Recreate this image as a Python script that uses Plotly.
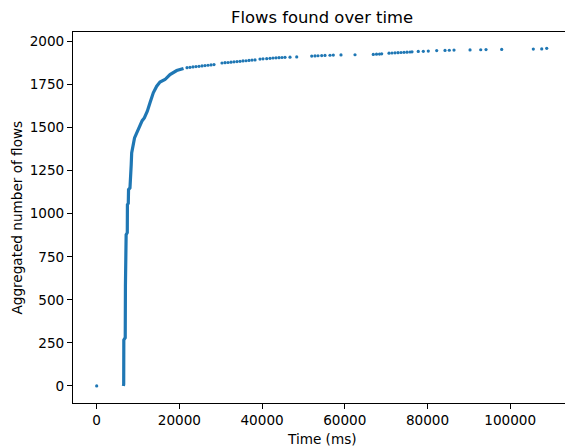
import plotly.graph_objects as go

# First flow recorded at the start of the capture
start_time_ms = [0]
start_count = [0]

# Burst of flows: cumulative count along the steep part of the curve
burst_time_ms = [6450, 6530, 6560, 6900, 6950, 7120, 7400, 7430, 7640, 7700,
                 8050, 8100, 8300, 8350, 8460, 8650, 8860, 9150, 9500, 10000,
                 10470, 11000, 11520, 12240, 12890, 13690, 14510, 15310, 16520,
                 17730, 19350, 21000]
burst_count = [0, 10, 267, 280, 580, 878, 890, 1052, 1060, 1140,
               1150, 1198, 1210, 1285, 1353, 1385, 1411, 1440, 1459, 1490,
               1517, 1540, 1556, 1595, 1644, 1702, 1740, 1764, 1779,
               1808, 1831, 1843]

# Later, sparser flows
tail_time_ms = [21840, 22560, 23290, 24010, 24740, 25470, 26190, 26920, 27650, 28370,
                30300, 31030, 31750, 32480, 33210, 33930, 34660, 35380, 36110, 36840,
                37560, 38290, 39490, 40220, 41110, 41910, 42640, 43360, 44090, 44810,
                45540, 46750, 48370, 52000, 52790, 53520, 54410, 55210, 56420, 57220,
                59080, 62470, 66890, 67670, 68390, 68920, 70690, 71410, 72140, 72870,
                73590, 74320, 75040, 75770, 76250, 77770, 78990, 80190, 82220, 84230,
                85270, 86410, 90280, 92870, 94150, 97940, 105590, 107620, 108830]
tail_count = [1848, 1850, 1852, 1854, 1856, 1858, 1860, 1862, 1864, 1866,
              1875, 1877, 1878, 1880, 1882, 1883, 1885, 1887, 1888, 1890,
              1892, 1893, 1898, 1899, 1900, 1902, 1904, 1905, 1906, 1907,
              1908, 1909, 1910, 1915, 1916, 1917, 1918, 1919, 1920, 1921,
              1922, 1923, 1925, 1926, 1927, 1928, 1932, 1933, 1934, 1935,
              1936, 1937, 1938, 1939, 1940, 1942, 1943, 1944, 1947, 1948,
              1949, 1950, 1951, 1952, 1953, 1954, 1956, 1957, 1960]

x_ticks = [0, 20000, 40000, 60000, 80000, 100000]
y_ticks = [0, 250, 500, 750, 1000, 1250, 1500, 1750, 2000]

BLUE = "#1f77b4"
FONT = "DejaVu Sans"

fig = go.Figure()
fig.add_trace(go.Scatter(x=burst_time_ms, y=burst_count, mode="lines",
                         line=dict(color=BLUE, width=3.2), hoverinfo="skip"))
fig.add_trace(go.Scatter(x=start_time_ms + tail_time_ms, y=start_count + tail_count,
                         mode="markers",
                         marker=dict(color=BLUE, size=3.2, line=dict(width=0)),
                         hoverinfo="skip"))

axis_common = dict(showgrid=False, zeroline=False, showline=True, linecolor="black",
                   linewidth=1, ticks="outside", ticklen=5, tickwidth=1,
                   tickcolor="black", tickformat="d",
                   tickfont=dict(family=FONT, size=13.6, color="black"))

fig.update_xaxes(range=[-5730, 113250], tickvals=x_ticks, mirror=True, **axis_common)
fig.update_yaxes(range=[-99, 2055], tickvals=y_ticks, mirror=False, **axis_common)

fig.update_layout(
    width=565, height=448,
    margin=dict(l=73, r=0, t=32, b=45),
    plot_bgcolor="white", paper_bgcolor="white",
    showlegend=False,
    annotations=[
        dict(text="Flows found over time", xref="paper", yref="paper", x=0.506, y=1,
             yshift=15, xanchor="center", yanchor="middle", showarrow=False,
             font=dict(family=FONT, size=16.4, color="black")),
        dict(text="Time (ms)", xref="paper", yref="paper", x=0.506, y=0,
             yshift=-36, xanchor="center", yanchor="middle", showarrow=False,
             font=dict(family=FONT, size=13.6, color="black")),
        dict(text="Aggregated number of flows", xref="paper", yref="paper", x=0, y=0.5,
             xshift=-57, xanchor="center", yanchor="middle", textangle=-90,
             showarrow=False, font=dict(family=FONT, size=13.6, color="black")),
    ],
)

fig.write_html("out.html", config={"displayModeBar": False})
